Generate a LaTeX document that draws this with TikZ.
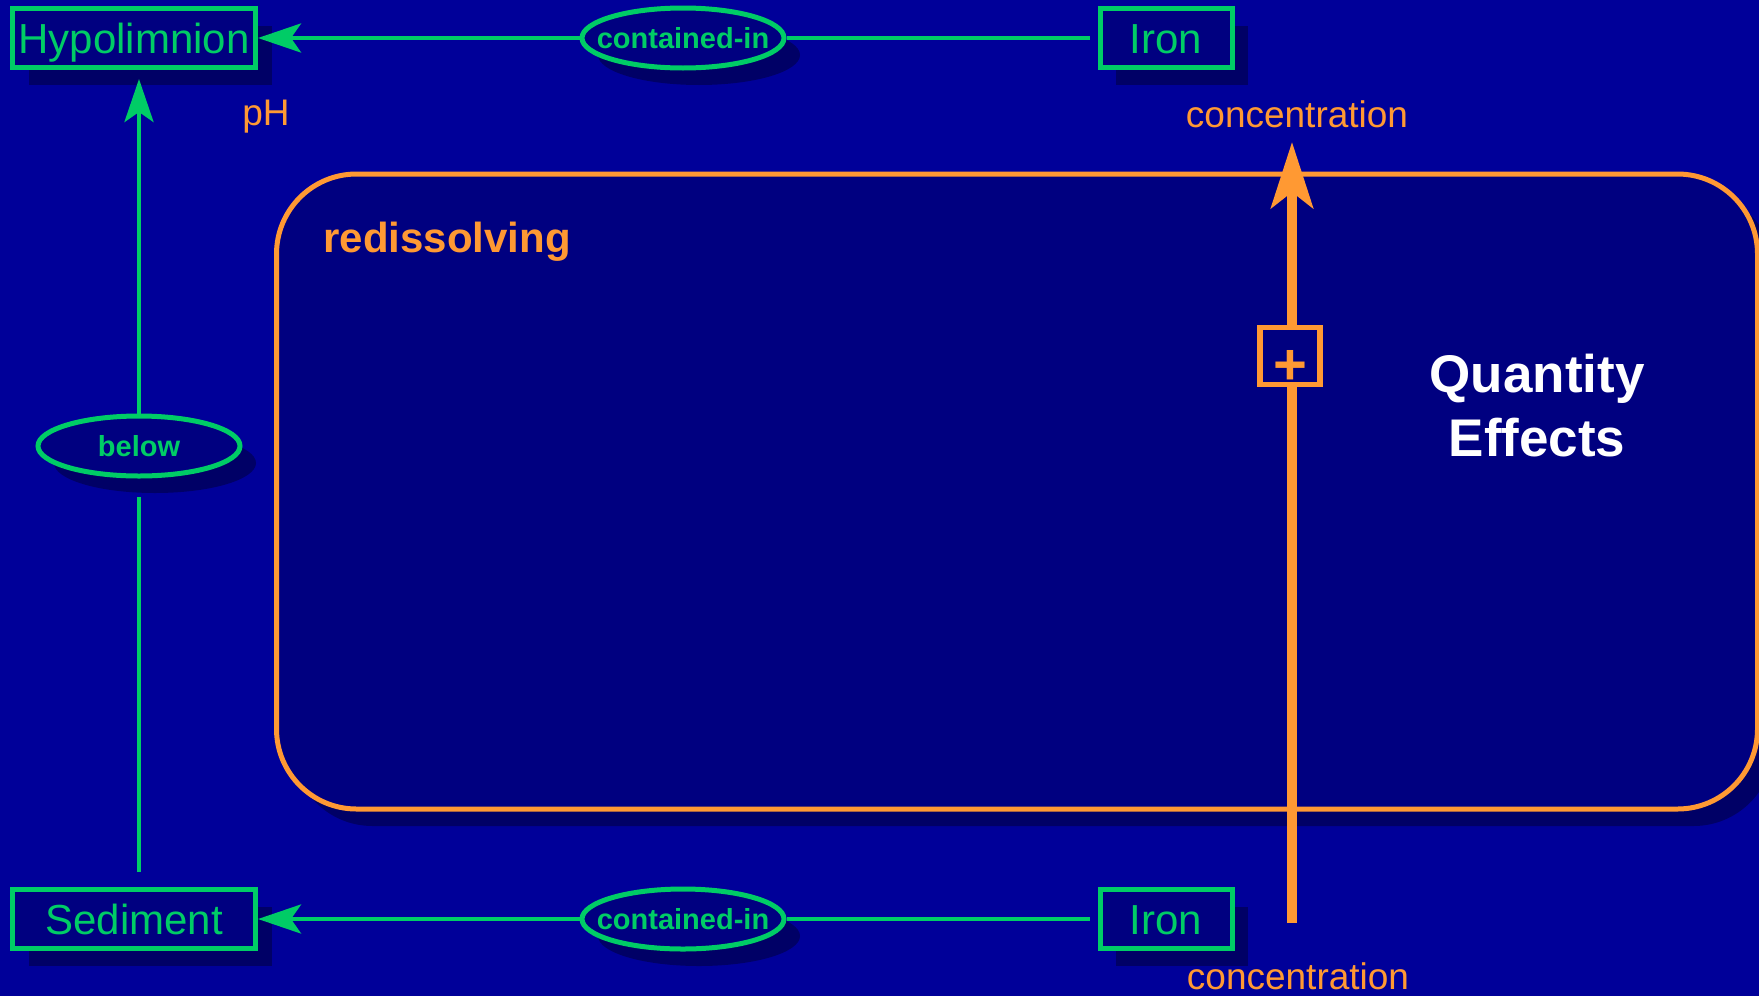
\documentclass[tikz,border=0pt]{standalone}
\usepackage{fontspec}
\setmainfont{Liberation Sans}
\usetikzlibrary{arrows.meta,shadows,shapes.geometric}

\definecolor{bgblue}{HTML}{000099}
\definecolor{boxblue}{HTML}{000080}
\definecolor{shadowblue}{HTML}{000066}
\definecolor{kgreen}{HTML}{00CC66}
\definecolor{qorange}{HTML}{FF9933}

\tikzset{
  shadowed/.style={drop shadow={shadow xshift=8pt, shadow yshift=-8.5pt, fill=shadowblue, opacity=1}},
  entity/.style={draw=kgreen, line width=2.5pt, fill=boxblue, text=kgreen, shadowed,
    inner sep=0pt, minimum height=29.5pt, text height=15pt, text depth=0pt,
    font=\fontsize{21}{25}\selectfont},
  relation/.style={ellipse, draw=kgreen, line width=2.5pt, fill=boxblue, text=kgreen, shadowed,
    inner xsep=-7.5pt, inner ysep=0pt, minimum width=101pt, minimum height=30pt,
    font=\bfseries\fontsize{14.5}{17}\selectfont},
  link/.style={draw=kgreen, line width=2.2pt},
  linkarrow/.style={link, -{Stealth[length=21.5pt, width=14.5pt, inset=5pt]}},
  procbox/.style={draw=qorange, line width=2.5pt, fill=boxblue, rounded corners=40pt, shadowed},
  qarrow/.style={draw=qorange, line width=5pt, -{Stealth[length=33pt, width=21pt, inset=8pt]}},
  plusbox/.style={draw=qorange, line width=2.75pt, fill=boxblue, text=qorange, inner sep=0pt,
    minimum width=30pt, minimum height=28.5pt, font=\bfseries\fontsize{29}{30}\selectfont},
  qlabel/.style={text=qorange, inner sep=0pt, font=\fontsize{18.5}{22}\selectfont}
}

\begin{document}
\begin{tikzpicture}[x=0.5pt, y=-0.5pt]
  \fill[bgblue] (0,0) rectangle (1759,996);
  \useasboundingbox (0,0) rectangle (1759,996);

  % the process
  \node[procbox, minimum width=740.5pt, minimum height=317.5pt] (redis) at (1017,491.5) {};
  \node[anchor=base west, text=qorange, inner sep=0pt, font=\bfseries\fontsize{21}{25}\selectfont] (redislabel) at (323,252) {redissolving};
  \node[align=center, text=white, inner sep=0pt, font=\bfseries\fontsize{26.5}{32}\selectfont] (qeff) at (1537,406) {Quantity\\Effects};

  % entities and relations
  \node[entity, minimum width=121.5pt] (hypo) at (134,38) {Hypolimnion};
  \node[entity, minimum width=66pt] (iron1) at (1166,38) {Iron};
  \node[entity, minimum width=121.5pt] (sed) at (134,919) {Sediment};
  \node[entity, minimum width=66pt] (iron2) at (1166,919) {Iron};
  \node[relation] (cont1) at (683,38) {contained-in};
  \node[relation] (cont2) at (683,919) {contained-in};
  \node[relation] (below) at (139,446) {below};

  \draw[link, shorten <=4pt] (iron1) -- (cont1);
  \draw[linkarrow] (cont1) -- (hypo);
  \draw[link, shorten <=4pt] (iron2) -- (cont2);
  \draw[linkarrow] (cont2) -- (sed);
  \draw[link, shorten <=7.5pt, shorten >=9pt] (sed.north -| below) -- (below);
  \draw[linkarrow, shorten >=4.5pt] (below) -- (hypo.south -| below);

  % quantities
  \node[qlabel, anchor=base west] (ph) at (242,125) {pH};
  \node[qlabel, anchor=base] (conc1) at (1297,127) {concentration};
  \node[qlabel, anchor=base] (conc2) at (1298,989) {concentration};

  % influence
  \coordinate (qbot) at (1292,923);
  \coordinate (qtop) at (1292,142);
  \draw[qarrow] (qbot) -- (qtop);
  \node[plusbox] (plus) at (1290,356) {\raisebox{-5pt}[18pt][0pt]{+}};
\end{tikzpicture}
\end{document}
